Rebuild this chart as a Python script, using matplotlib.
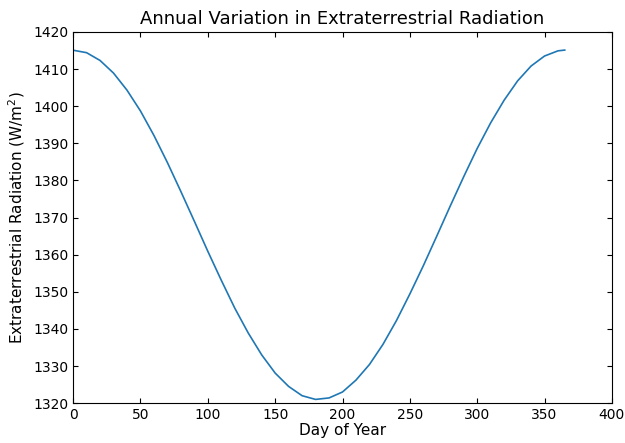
import matplotlib
matplotlib.use('Agg')
import matplotlib.pyplot as plt

# values
days = [1, 10, 20, 30, 40, 50, 60, 70, 80, 90, 100, 110, 120, 130, 140,
        150, 160, 170, 180, 190, 200, 210, 220, 230, 240, 250, 260, 270,
        280, 290, 300, 310, 320, 330, 340, 350, 360, 365]
radiation = [1415.0, 1414.4, 1412.3, 1408.9, 1404.3, 1398.7, 1392.1, 1384.8,
             1377.0, 1369.0, 1360.9, 1353.1, 1345.6, 1338.9, 1333.0, 1328.1,
             1324.5, 1322.0, 1321.0, 1321.4, 1323.0, 1326.2, 1330.4, 1335.8,
             1342.2, 1349.4, 1357.0, 1365.0, 1373.1, 1381.0, 1388.6, 1395.5,
             1401.6, 1406.8, 1410.8, 1413.5, 1414.9, 1415.1]
xticks = [0, 50, 100, 150, 200, 250, 300, 350, 400]
yticks = [1320, 1330, 1340, 1350, 1360, 1370, 1380, 1390, 1400, 1410, 1420]

plt.rcParams['font.family'] = 'DejaVu Sans'
fig, ax = plt.subplots(figsize=(6.25, 4.43), dpi=100)
fig.subplots_adjust(left=0.117, right=0.979, top=0.928, bottom=0.09)

ax.plot(days, radiation, color='#1f77b4', linewidth=1.2)
ax.set_xlim(0, 400)
ax.set_ylim(1320, 1420)
ax.set_xticks(xticks)
ax.set_yticks(yticks)
ax.tick_params(direction='in', top=True, right=True, labelsize=10)
ax.set_xlabel('Day of Year', fontsize=11, labelpad=1)
ax.set_ylabel('Extraterrestrial Radiation (W/m$^2$)', fontsize=11)
ax.set_title('Annual Variation in Extraterrestrial Radiation', fontsize=13)

fig.savefig('out.png', dpi=100)
